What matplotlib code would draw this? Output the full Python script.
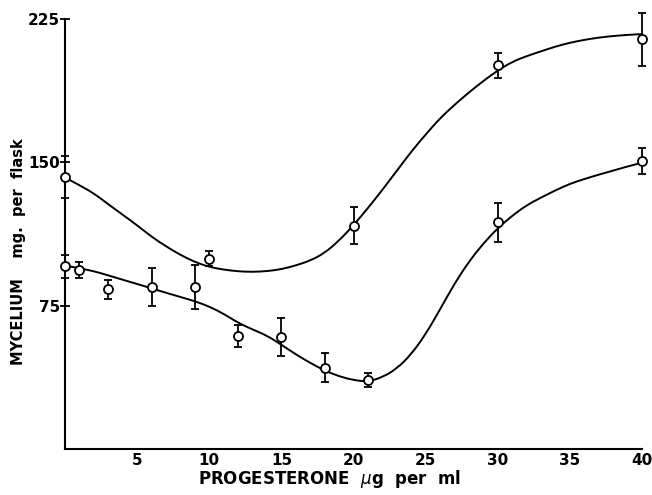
import numpy as np
import matplotlib.pyplot as plt
from matplotlib.path import Path
from matplotlib.patches import PathPatch

# measured points (progesterone ug/ml, mycelium mg per flask, error)
upper_x = [0, 10, 20, 30, 40]
upper_y = [142.3, 99.6, 116.8, 200.7, 214.2]
upper_err = [11.0, 3.8, 9.8, 6.6, 14.0]

lower_x = [0, 1, 3, 6, 9, 12, 15, 18, 21, 30, 40]
lower_y = [95.5, 93.4, 83.5, 84.7, 84.7, 59.3, 58.5, 42.6, 36.0, 118.5, 150.5]
lower_err = [6.0, 4.2, 5.0, 10.0, 11.7, 5.8, 9.8, 7.6, 3.8, 10.0, 6.7]

# hand drawn fitted curves at each unit of x
curve_x = list(range(0, 41))
upper_curve = [142, 138, 133.7, 128, 122.5, 117, 111, 106, 101.5, 97.8,
               95.2, 93.8, 92.9, 92.6, 93, 94, 96, 98.5, 102.5, 109,
               117, 126, 135.5, 145.5, 155.5, 164.5, 173, 180, 186.5, 192.5,
               198, 202.5, 205.5, 208, 210.5, 212.5, 214, 215.2, 216, 216.6,
               217]
lower_curve = [96, 94.5, 93, 90.8, 88.5, 86.3, 84, 81.7, 79.5, 77.3,
               74.5, 70.7, 66, 62.5, 59.3, 54.5, 49.5, 45, 41, 38,
               36, 35.2, 37.5, 42, 49.5, 60, 73, 86.5, 98, 107.5,
               115.5, 122, 127.5, 131.5, 135.3, 138.7, 141.2, 143.5, 145.6, 147.8,
               149.7]


def smooth_path(xs, ys):
    # quadratic curve segments using the read points as control points
    pts = list(zip(xs, ys))
    verts = [pts[0]]
    codes = [Path.MOVETO]
    for i in range(1, len(pts) - 1):
        mid = ((pts[i][0] + pts[i + 1][0]) / 2, (pts[i][1] + pts[i + 1][1]) / 2)
        verts += [pts[i], mid]
        codes += [Path.CURVE3, Path.CURVE3]
    verts.append(pts[-1])
    codes.append(Path.LINETO)
    return Path(verts, codes)


plt.rcParams['font.family'] = ['DejaVu Sans']

fig = plt.figure(figsize=(6.52, 4.95), dpi=100)
ax = fig.add_axes([0.0997, 0.093, 0.885, 0.869])

for cy in (upper_curve, lower_curve):
    patch = PathPatch(smooth_path(curve_x, cy), facecolor='none',
                      edgecolor='black', lw=1.4, capstyle='round',
                      joinstyle='round', clip_on=False)
    ax.add_patch(patch)

for xs, ys, es in [(upper_x, upper_y, upper_err), (lower_x, lower_y, lower_err)]:
    eb = ax.errorbar(xs, ys, yerr=es, fmt='o', mfc='white', mec='black',
                     mew=1.3, ms=6.5, ecolor='black', elinewidth=1.3,
                     capsize=3.2, capthick=1.3, zorder=3)
    for art in eb.lines[0:1] + tuple(eb.lines[1]) + tuple(eb.lines[2]):
        art.set_clip_on(False)

ax.set_xlim(0, 40)
ax.set_ylim(0, 225)

ax.spines['top'].set_visible(False)
ax.spines['right'].set_visible(False)
ax.spines['left'].set_linewidth(1.5)
ax.spines['bottom'].set_linewidth(1.5)

ax.set_xticks([5, 10, 15, 20, 25, 30, 35, 40])
ax.set_yticks([75, 150, 225])
ax.tick_params(axis='x', length=0, pad=3, labelsize=11)
ax.tick_params(axis='y', direction='inout', length=7, width=1.3, pad=0,
               labelsize=11)
for lab in ax.get_xticklabels() + ax.get_yticklabels():
    lab.set_fontweight('bold')

fig.text(0.505, 0.032, r'PROGESTERONE  $\mu$g  per  ml', ha='center',
         va='center', fontsize=12, fontweight='bold')
fig.text(0.028, 0.492, 'MYCELIUM    mg.  per  flask', ha='center',
         va='center', rotation=90, fontsize=10.5, fontweight='bold')

fig.savefig('out.png', dpi=100)
